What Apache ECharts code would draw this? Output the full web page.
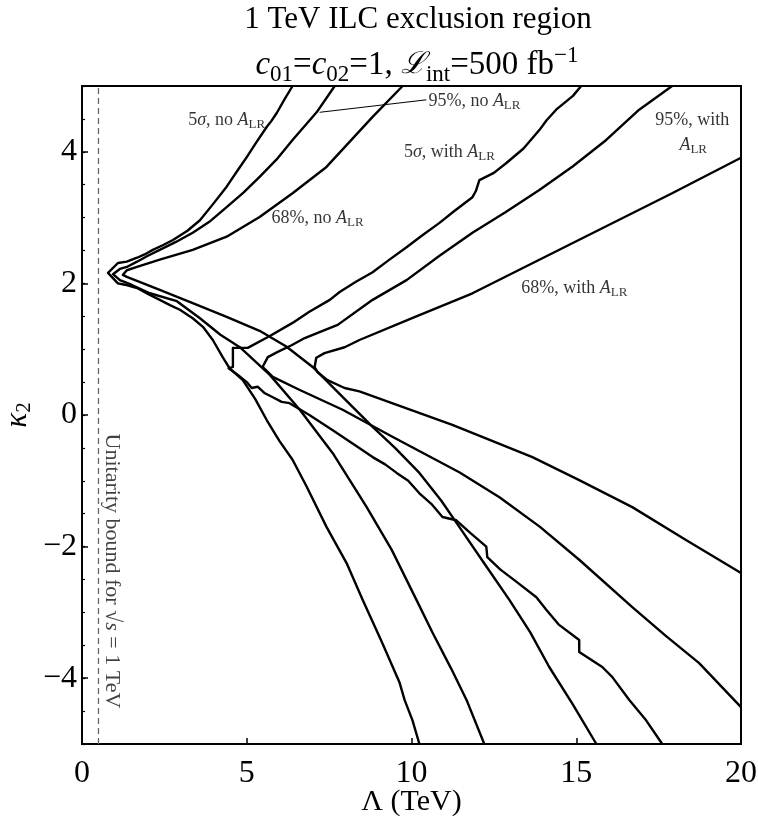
<!DOCTYPE html>
<html><head><meta charset="utf-8">
<script src="https://cdn.jsdelivr.net/npm/echarts@6/dist/echarts.min.js"></script>
<style>html,body{margin:0;padding:0;background:#fff}#c{width:758px;height:816px}</style>
</head><body><div id="c"></div>
<script>
// ---- axis ticks ----
const xTicks = [0, 5, 10, 15, 20];
const yTickLabels = [-4, -2, 0, 2, 4];
const unitarityLambda = 0.5;

// ---- contours: [Lambda (TeV), kappa2] ----
const sigma5NoALR = [
  [6.39,5.0],[6.15,4.80],[5.91,4.59],[5.75,4.47],[5.61,4.38],[5.3,4.15],[5.0,3.92],[4.7,3.70],[4.39,3.47],
  [4.0,3.22],[3.58,2.96],[3.2,2.80],[2.76,2.66],[2.45,2.58],[2.15,2.51],[1.9,2.44],[1.67,2.39],[1.36,2.33],
  [1.09,2.31],[0.79,2.16],[1.09,2.0],[1.3,1.98],[1.67,1.93],[2.0,1.84],[2.36,1.75],[2.67,1.67],[2.97,1.60],
  [3.36,1.47],[3.67,1.34],[3.97,1.14],[4.27,0.88],[4.48,0.71],[4.88,0.53],[5.25,0.25],[5.61,-0.08],[6.0,-0.40],
  [6.39,-0.68],[6.82,-1.09],[7.42,-1.70],[8.03,-2.25],[8.52,-2.81],[9.1,-3.45],[9.64,-4.07],[9.79,-4.33],
  [10.03,-4.64],[10.24,-5.0]
];
const cl95NoALR = [
  [7.67,5.0],[7.12,4.6],[6.39,4.18],[5.9,3.88],[5.39,3.62],[4.9,3.38],[4.39,3.16],[3.9,2.95],[3.36,2.77],
  [2.85,2.63],[2.36,2.51],[2.0,2.42],[1.67,2.33],[1.36,2.25],[1.15,2.22],[0.94,2.14],[1.15,2.05],[1.5,1.98],
  [2.06,1.85],[2.88,1.73],[3.58,1.47],[4.2,1.22],[4.79,1.03],[5.70,0.61],[6.61,0.08],[7.61,-0.58],[8.64,-1.40],
  [9.4,-2.05],[10.15,-2.81],[10.64,-3.31],[11.2,-3.85],[11.67,-4.33],[12.21,-5.0]
];
const cl68NoALR = [
  [9.73,5.0],[8.82,4.53],[8.12,4.15],[7.42,3.77],[6.39,3.37],[5.39,3.01],[4.39,2.71],[3.36,2.51],[2.36,2.36],
  [1.67,2.25],[1.36,2.20],[1.24,2.13],[1.36,2.10],[2.36,1.90],[3.36,1.70],[4.39,1.49],[5.39,1.28],[6.2,1.04],
  [7.0,0.73],[7.9,0.28],[8.82,-0.18],[9.5,-0.50],[10.24,-0.88],[10.9,-1.30],[11.45,-1.70],[12.2,-2.25],
  [12.97,-2.81],[13.6,-3.30],[14.18,-3.83],[14.9,-4.40],[15.61,-5.0]
];
const sigma5WithALR = [
  [15.15,5.0],[14.9,4.85],[14.39,4.64],[14.1,4.48],[13.88,4.33],[13.4,4.05],[12.88,3.83],[12.5,3.68],[12.06,3.57],
  [11.95,3.40],[11.85,3.31],[11.3,3.10],[10.85,2.92],[10.3,2.72],[9.85,2.55],[9.3,2.35],[8.82,2.17],[8.3,2.02],
  [7.82,1.87],[7.52,1.75],[6.9,1.57],[6.39,1.40],[5.7,1.20],[5.03,1.02],[4.58,1.02],[4.58,0.73],[4.45,0.71],
  [4.73,0.61],[5.0,0.50],[5.15,0.41],[5.33,0.43],[5.55,0.33],[5.79,0.27],[6.06,0.20],[6.30,0.18],[6.9,0.0],
  [7.61,-0.23],[8.2,-0.43],[8.82,-0.64],[9.2,-0.75],[9.55,-0.88],[9.9,-1.0],[10.24,-1.19],[10.6,-1.35],
  [10.94,-1.55],[11.36,-1.60],[11.8,-1.8],[12.27,-2.0],[12.30,-2.16],[12.7,-2.35],[13.12,-2.51],[13.79,-2.77],
  [14.09,-2.96],[14.48,-3.19],[15.09,-3.42],[15.09,-3.60],[15.79,-3.83],[16.09,-3.98],[16.61,-4.33],
  [17.12,-4.64],[17.61,-5.0]
];
const cl95WithALR = [
  [17.91,5.0],[16.91,4.64],[15.91,4.18],[14.9,3.78],[13.88,3.42],[12.85,3.08],[11.85,2.77],[10.85,2.42],
  [9.85,2.05],[8.82,1.75],[7.76,1.37],[7.36,1.29],[6.76,1.17],[6.36,1.06],[5.94,0.96],[5.64,0.88],[5.48,0.73],
  [5.79,0.58],[6.61,0.38],[7.91,0.08],[9.42,-0.33],[11.45,-0.87],[12.67,-1.25],[13.9,-1.70],[15.09,-2.20],
  [16.7,-2.92],[17.7,-3.35],[18.73,-3.77],[20.0,-4.44]
];
const cl68WithALR = [
  [20.0,3.91],[17.91,3.37],[14.88,2.61],[11.85,1.85],[10.0,1.47],[8.42,1.14],[7.97,1.03],[7.36,0.94],[7.11,0.87],
  [7.06,0.73],[7.15,0.65],[7.45,0.53],[7.97,0.41],[8.42,0.36],[9.64,0.14],[11.24,-0.15],[13.67,-0.64],
  [15.09,-0.99],[16.7,-1.40],[18.33,-1.90],[20.0,-2.40]
];
const leader95 = [[7.21,4.60],[10.45,4.79]];

// ---- annotation labels (anchor = text centre, data coords) ----
const labelTexts = [
  '{n|5}{i|σ}{n|, no }{i|A}{s|LR}',
  '{n|95%, no }{i|A}{s|LR}',
  '{n|5}{i|σ}{n|, with }{i|A}{s|LR}',
  '{n|68%, no }{i|A}{s|LR}',
  '{n|95%, with}',
  '{i|A}{s|LR}',
  '{n|68%, with }{i|A}{s|LR}'
];
const labelAnchors = [[4.39,4.48],[11.91,4.77],[11.15,4.0],[7.15,2.99],[18.52,4.48],[18.55,4.10],[14.94,1.93]];
const unitarityText = '{u|Unitarity bound for √}{ui|s}{u| = 1 TeV}';
const unitarityAnchor = [0.91, -2.37];

const FF = 'Liberation Serif';
const richSmall = {
  n: {fontFamily: FF, fontSize: 18, lineHeight: 22, color: '#000'},
  i: {fontFamily: FF, fontSize: 18, lineHeight: 22, fontStyle: 'italic', color: '#000'},
  s: {fontFamily: FF, fontSize: 13, lineHeight: 13, verticalAlign: 'bottom', color: '#000'},
  u: {fontFamily: FF, fontSize: 22, lineHeight: 24, color: '#111'},
  ui: {fontFamily: FF, fontSize: 22, lineHeight: 24, fontStyle: 'italic', color: '#111'}
};

function contour(name, data) {
  return {name, type: 'line', data, showSymbol: false, symbol: 'none', smooth: false,
    lineStyle: {color: '#000', width: 2.4, join: 'round'}, z: 3, animation: false};
}

const chart = echarts.init(document.getElementById('c'), null, {renderer: 'canvas'});
chart.setOption({
  animation: false,
  backgroundColor: '#fff',
  title: [
    {text: '1 TeV ILC exclusion region', left: 413, textAlign: 'center', top: -1,
      textStyle: {fontFamily: FF, fontSize: 31, fontWeight: 'normal', color: '#000'}},
    {text: '{i|c}{s|01}{n|=}{i|c}{s|02}{n|=1, }{l|ℒ}{s|int}{n|=500 fb}{p|−1}', left: 412, textAlign: 'center', top: 39,
      textStyle: {fontWeight: 'normal', rich: {
        n: {fontFamily: FF, fontSize: 33, lineHeight: 42, fontWeight: 'normal', color: '#000'},
        i: {fontFamily: FF, fontSize: 33, lineHeight: 42, fontStyle: 'italic', fontWeight: 'normal', color: '#000'},
        l: {fontFamily: 'DejaVu Serif', fontSize: 30, lineHeight: 42, fontStyle: 'italic', fontWeight: 'normal', color: '#000'},
        s: {fontFamily: FF, fontSize: 23, lineHeight: 22, verticalAlign: 'bottom', fontWeight: 'normal', color: '#000'},
        p: {fontFamily: FF, fontSize: 23, lineHeight: 22, verticalAlign: 'top', fontWeight: 'normal', color: '#000'}
      }}}
  ],
  grid: {left: 82, right: 17, top: 86, bottom: 72, show: true, borderColor: '#000', borderWidth: 2,
    containLabel: false, outerBoundsMode: 'none'},
  xAxis: {
    type: 'value', min: xTicks[0], max: xTicks[xTicks.length - 1], interval: 5,
    axisLine: {onZero: false, lineStyle: {color: '#000', width: 2}},
    axisTick: {inside: true, length: 6, lineStyle: {color: '#000', width: 1.5}},
    axisLabel: {fontFamily: FF, fontSize: 32, color: '#000', margin: 14},
    splitLine: {show: false},
    name: 'Λ (TeV)', nameLocation: 'middle', nameGap: 43, nameMoveOverlap: false,
    nameTextStyle: {fontFamily: FF, fontSize: 30, color: '#000'}
  },
  yAxis: [
    {type: 'value', min: -5, max: 5, interval: 0.5,
      axisLine: {show: true, onZero: false, lineStyle: {color: '#000', width: 2}},
      axisTick: {show: true, inside: true, length: 3, lineStyle: {color: '#000', width: 1.2}},
      axisLabel: {show: false}, splitLine: {show: false}},
    {type: 'value', min: -5, max: 5, position: 'left',
      axisLine: {show: false, onZero: false},
      axisTick: {show: true, inside: true, length: 6, customValues: yTickLabels, lineStyle: {color: '#000', width: 1.5}},
      axisLabel: {customValues: yTickLabels, fontFamily: FF, fontSize: 32, color: '#000', margin: 5,
        formatter: v => (v < 0 ? '−' + Math.abs(v) : String(v))},
      splitLine: {show: false},
      name: '{k|κ}{s|2}', nameLocation: 'middle', nameGap: 47, nameRotate: 90, nameMoveOverlap: false,
      nameTextStyle: {rich: {
        k: {fontFamily: FF, fontSize: 31, lineHeight: 34, fontStyle: 'italic', color: '#000'},
        s: {fontFamily: FF, fontSize: 21, lineHeight: 21, verticalAlign: 'bottom', color: '#000'}
      }}}
  ],
  series: [
    {name: 'unitarity', type: 'line', data: [[unitarityLambda, -5], [unitarityLambda, 5]], symbol: 'none',
      lineStyle: {color: '#666', width: 1.3, type: [6, 4]}, z: 2},
    contour('5σ no ALR', sigma5NoALR),
    contour('95% no ALR', cl95NoALR),
    contour('68% no ALR', cl68NoALR),
    contour('5σ with ALR', sigma5WithALR),
    contour('95% with ALR', cl95WithALR),
    contour('68% with ALR', cl68WithALR),
    {name: 'leader', type: 'line', data: leader95, symbol: 'none', lineStyle: {color: '#000', width: 1}, z: 3},
    {name: 'labels', type: 'scatter', symbolSize: 0, z: 5, silent: true,
      data: labelAnchors.map((a, k) => ({value: a, text: labelTexts[k]})).concat(
        [{value: unitarityAnchor, text: unitarityText, label: {rotate: -90}}]),
      label: {show: true, position: 'inside', formatter: p => p.data.text, rich: richSmall, align: 'center'}}
  ]
});
</script></body></html>
